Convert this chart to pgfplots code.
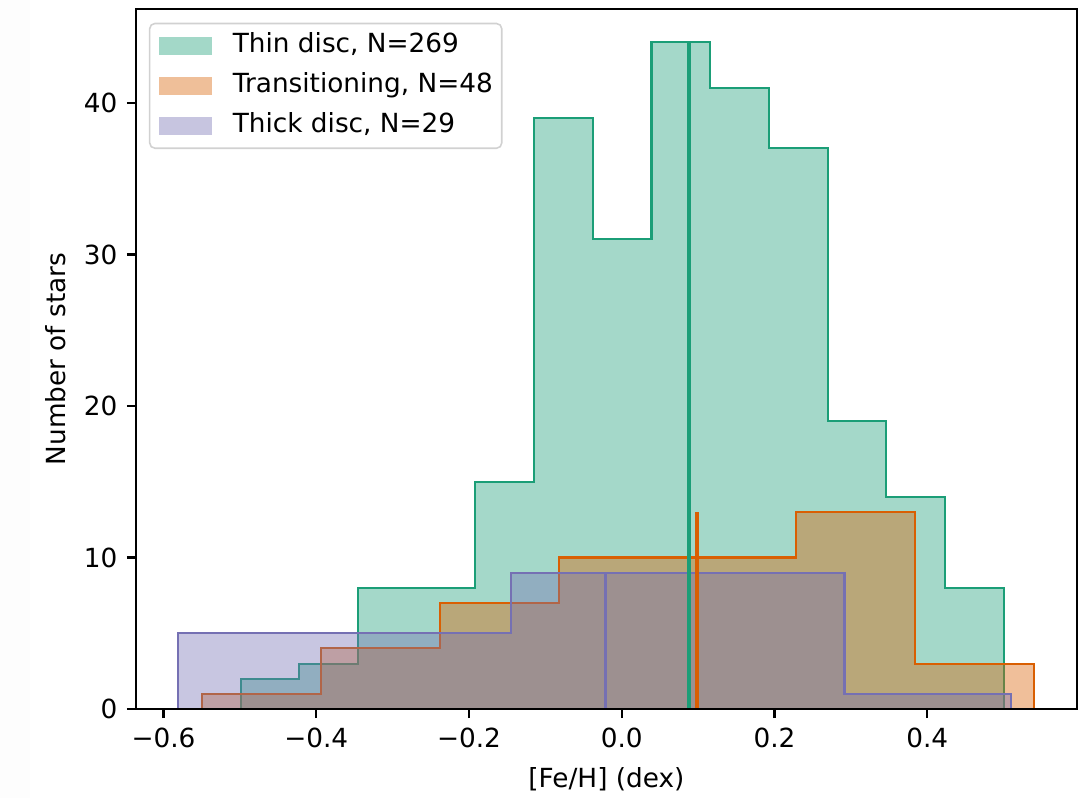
\documentclass[border=0pt]{standalone}
\usepackage{fontspec}
\setmainfont{DejaVu Sans}
\usepackage{pgfplots}
\pgfplotsset{compat=1.18}
\definecolor{dgreen}{HTML}{1B9E77}
\definecolor{dorange}{HTML}{D95F02}
\definecolor{dpurple}{HTML}{7570B3}
\begin{document}
\begin{tikzpicture}
\useasboundingbox (-51.67pt,-33.81pt) rectangle (358.66pt,269.38pt);
\fill[black!0.8] (-51.67pt,-33.81pt) rectangle (-40.3pt,269.38pt);
\begin{axis}[
  at={(0pt,0pt)}, anchor=south west, scale only axis,
  width=357.5pt, height=265.96pt,
  xmin=-0.636, xmax=0.596, ymin=0, ymax=46.2,
  axis on top,
  tick align=outside, tick pos=left, major tick length=3.5pt,
  every tick/.style={black, line width=0.8pt},
  axis line style={line width=0.8pt},
  xtick={-0.6,-0.4,-0.2,0,0.2,0.4},
  xticklabels={−0.6,−0.4,−0.2,0.0,0.2,0.4},
  ytick={0,10,20,30,40},
  yticklabels={0,10,20,30,40},
  xlabel={[Fe/H] (dex)}, ylabel={Number of stars},
  xlabel style={at={(axis description cs:0.5,-0.1128)}, anchor=base},
  ylabel style={at={(axis description cs:-0.075,0.5)}, anchor=base},
  legend cell align=left,
  legend style={at={(0,1)}, anchor=north west, xshift=4.9pt, yshift=-5.2pt,
    draw=black!18, line width=0.6pt, rounded corners=2pt, fill=white,
    inner xsep=3.4pt, inner ysep=3.5pt, row sep=5.2pt,
    nodes={inner sep=0pt, text height=7.6pt, text depth=2.4pt}},
]
% Thin disc
\addplot[const plot, draw=dgreen, line width=0.8pt, fill=dgreen, fill opacity=0.4, forget plot]
  coordinates {(-0.499,2) (-0.4222,3) (-0.3453,8) (-0.2685,8) (-0.1916,15) (-0.1148,39) (-0.0379,31) (0.0389,44) (0.1158,41) (0.1926,37) (0.2695,19) (0.3463,14) (0.4232,8) (0.500,8)} \closedcycle;
% Transitioning
\addplot[const plot, draw=dorange, line width=0.8pt, fill=dorange, fill opacity=0.4, forget plot]
  coordinates {(-0.5492,1) (-0.3936,4) (-0.2381,7) (-0.0825,10) (0.0730,10) (0.2286,13) (0.3841,3) (0.5397,3)} \closedcycle;
% Thick disc
\addplot[const plot, draw=dpurple, line width=0.8pt, fill=dpurple, fill opacity=0.4, forget plot]
  coordinates {(-0.5814,5) (-0.3631,5) (-0.1449,9) (0.0734,9) (0.2917,1) (0.5099,1)} \closedcycle;
% mean lines
\addplot[dgreen, line width=1.4pt, forget plot] coordinates {(0.0884,0) (0.0884,44)};
\addplot[dorange, line width=1.3pt, forget plot] coordinates {(0.0986,0) (0.0986,13)};
\addplot[dpurple, line width=1.2pt, forget plot] coordinates {(-0.0212,0) (-0.0212,9)};
\addlegendimage{draw=none, legend image code/.code={\fill[draw=none, dgreen, fill opacity=0.4, sharp corners] (0pt,-3.55pt) rectangle (20.1pt,3.55pt); \path[draw=none] (0pt,0pt) -- (28.2pt,0pt);}}
\addlegendentry{Thin disc, N=269}
\addlegendimage{draw=none, legend image code/.code={\fill[draw=none, dorange, fill opacity=0.4, sharp corners] (0pt,-3.55pt) rectangle (20.1pt,3.55pt); \path[draw=none] (0pt,0pt) -- (28.2pt,0pt);}}
\addlegendentry{Transitioning, N=48}
\addlegendimage{draw=none, legend image code/.code={\fill[draw=none, dpurple, fill opacity=0.4, sharp corners] (0pt,-3.55pt) rectangle (20.1pt,3.55pt); \path[draw=none] (0pt,0pt) -- (28.2pt,0pt);}}
\addlegendentry{Thick disc, N=29}
\end{axis}
\end{tikzpicture}
\end{document}
